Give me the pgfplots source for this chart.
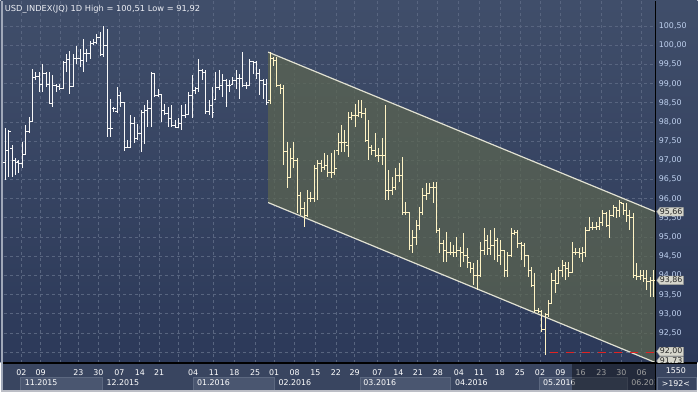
\documentclass[border=0pt]{standalone}
\usepackage{pgfplots}
\pgfplotsset{compat=1.18}
\usepackage{pgfplotstable}
\usetikzlibrary{backgrounds}
\usepackage{fontspec}
\setmainfont{DejaVu Sans}
\definecolor{bgtop}{RGB}{64,78,106}
\definecolor{bgbot}{RGB}{44,57,89}
\definecolor{gridc}{RGB}{88,101,128}
\definecolor{stripc}{RGB}{57,69,96}
\definecolor{monthc}{RGB}{74,86,112}
\definecolor{monthb}{RGB}{92,104,128}
\definecolor{chanfill}{RGB}{92,101,80}
\definecolor{chanline}{RGB}{225,225,210}
\definecolor{barw}{RGB}{248,248,248}
\definecolor{barc}{RGB}{255,243,196}
\definecolor{ylab}{RGB}{190,208,238}
\definecolor{boxc}{RGB}{214,214,204}
\definecolor{redl}{RGB}{225,35,35}
\definecolor{edgec}{RGB}{160,168,185}
\definecolor{botedge}{RGB}{188,190,198}
\definecolor{titlec}{RGB}{236,238,244}
\pgfdeclareplotmark{otick}{\pgfpathmoveto{\pgfqpoint{-2pt}{0pt}}\pgfpathlineto{\pgfqpoint{0.4pt}{0pt}}\pgfusepathqstroke}
\pgfdeclareplotmark{ctick}{\pgfpathmoveto{\pgfqpoint{-0.4pt}{0pt}}\pgfpathlineto{\pgfqpoint{2pt}{0pt}}\pgfusepathqstroke}
\newcommand{\lbl}{\fontsize{7.9}{9}\selectfont}
\newcommand{\valbox}[2]{%
  \filldraw[fill=boxc, draw=boxc!75!black, line width=0.4pt] (657.3,#1) -- (660.5,#1+4.3) -- (684,#1+4.3) -- (684,#1-4.3) -- (660.5,#1-4.3) -- cycle;
  \node[anchor=west, inner sep=0pt, text=black!85, font=\lbl] at (660.3,#1) {#2};}
\pgfplotstableread{
i H L O C
0 97.83 96.48 96.95 97.26
1 97.78 96.56 97.26 97.75
2 97.39 96.56 97.31 97.00
3 97.05 96.61 97.00 96.95
4 97.00 96.66 96.97 96.92
5 97.49 96.79 96.92 97.16
6 97.91 97.13 97.16 97.75
7 98.14 97.73 97.75 98.01
8 99.37 98.01 98.01 99.16
9 99.31 99.08 99.16 99.18
10 99.29 98.79 99.18 98.98
11 99.50 98.77 98.98 99.26
12 99.29 98.92 99.26 98.98
13 99.29 98.46 98.98 98.48
14 99.21 98.40 98.48 98.95
15 99.00 98.77 98.95 98.92
16 98.98 98.82 98.92 98.87
17 99.60 98.87 98.87 99.55
18 99.76 99.29 99.55 99.63
19 99.86 98.72 99.63 98.92
20 99.76 98.92 98.92 99.65
21 99.99 99.52 99.65 99.66
22 99.91 99.44 99.66 99.60
23 100.17 99.29 99.60 99.78
24 99.91 99.55 99.78 99.78
25 100.12 99.65 99.78 100.04
26 100.17 100.02 100.04 100.07
27 100.30 100.02 100.07 100.20
28 100.33 99.73 100.20 99.76
29 100.51 99.70 99.76 99.99
30 100.43 97.60 99.99 97.83
31 98.61 97.60 97.83 97.83
32 98.38 98.25 98.35 98.35
33 98.90 98.25 98.27 98.69
34 98.77 98.38 98.69 98.51
35 98.53 97.23 98.51 97.34
36 97.52 97.31 97.34 97.34
37 98.17 97.31 97.34 97.96
38 98.12 97.44 97.96 97.57
39 97.94 97.52 97.57 97.70
40 98.30 97.21 97.70 98.25
41 98.43 97.42 98.25 98.30
42 98.56 97.86 98.30 98.35
43 99.29 97.88 98.35 99.26
44 99.26 98.64 99.26 98.69
45 98.85 98.64 98.69 98.72
46 98.64 97.99 98.72 98.30
47 98.48 98.17 98.30 98.22
48 98.38 97.86 98.22 98.09
49 98.43 97.86 98.09 97.91
50 98.04 97.83 97.91 97.86
51 98.09 97.83 97.86 97.96
52 98.43 97.78 97.96 98.17
53 98.46 98.09 98.17 98.20
54 98.77 98.17 98.20 98.69
55 99.21 98.09 98.69 98.82
56 98.92 98.74 98.82 98.87
57 99.65 98.77 98.87 99.34
58 99.39 99.08 99.34 99.29
59 99.34 98.20 99.29 98.27
60 98.56 98.17 98.27 98.43
61 98.90 98.09 98.43 98.25
62 99.29 98.56 98.59 98.90
63 99.34 98.82 98.90 98.95
64 99.26 98.64 98.95 99.08
65 99.13 98.38 99.08 98.95
66 99.08 98.77 98.95 98.95
67 99.18 98.98 98.98 99.08
68 99.34 98.87 99.08 99.13
69 99.26 98.61 99.13 99.13
70 99.81 98.92 99.13 98.95
71 99.03 98.87 98.95 98.95
72 99.63 98.95 98.95 99.57
73 99.60 99.26 99.57 99.55
74 99.60 99.13 99.55 99.26
75 99.39 98.69 99.26 99.08
76 99.13 98.61 99.08 98.98
77 99.13 98.43 98.98 98.51
78 99.81 98.48 98.56 99.65
79 99.70 99.47 99.65 99.60
80 99.68 98.90 99.60 98.95
81 98.98 98.74 98.95 98.87
82 98.95 96.87 98.87 97.23
83 97.47 96.27 97.23 96.56
84 97.31 96.56 96.56 97.05
85 97.47 96.79 97.05 97.00
86 97.05 95.62 97.00 96.09
87 96.17 95.57 96.09 95.75
88 95.91 95.26 95.75 95.57
89 96.22 95.52 95.57 96.01
90 96.17 95.91 96.01 96.01
91 96.87 95.91 96.01 96.79
92 97.00 95.96 96.79 96.92
93 97.00 96.69 96.92 96.82
94 97.18 96.74 96.82 96.87
95 97.13 96.56 96.87 96.69
96 97.18 96.53 96.69 96.69
97 97.26 96.61 96.69 96.79
98 97.70 97.13 97.26 97.47
99 97.91 97.21 97.47 97.47
100 97.78 97.21 97.47 97.47
101 98.25 97.08 97.39 98.12
102 98.25 98.04 98.12 98.17
103 98.48 97.86 98.17 98.17
104 98.56 98.12 98.17 98.25
105 98.56 98.09 98.25 98.22
106 98.35 97.47 98.22 97.52
107 98.04 97.00 97.52 97.34
108 97.39 97.13 97.34 97.26
109 97.70 97.08 97.26 97.13
110 97.31 96.95 97.13 97.13
111 97.57 96.87 97.13 97.13
112 98.43 95.96 97.13 96.22
113 96.74 95.96 96.22 96.22
114 96.56 96.09 96.22 96.30
115 96.79 96.22 96.30 96.61
116 96.92 96.43 96.61 96.61
117 97.08 95.57 96.61 95.65
118 95.91 95.57 95.65 95.65
119 95.65 94.66 95.65 94.79
120 95.18 94.58 94.79 95.00
121 95.44 94.79 95.00 95.31
122 95.78 95.18 95.31 95.65
123 96.27 95.57 95.65 96.09
124 96.40 95.96 96.09 96.14
125 96.40 96.14 96.14 96.30
126 96.43 95.88 96.30 96.30
127 96.43 95.10 96.30 95.18
128 95.23 94.58 95.18 94.84
129 94.92 94.35 94.84 94.66
130 95.13 94.35 94.66 94.61
131 94.87 94.53 94.61 94.61
132 94.79 94.48 94.61 94.61
133 95.00 94.48 94.61 94.66
134 94.74 94.22 94.66 94.61
135 95.10 94.35 94.61 94.53
136 94.71 94.19 94.53 94.48
137 94.35 94.06 94.35 94.19
138 94.32 93.75 94.19 94.01
139 94.40 93.62 94.01 94.01
140 94.87 93.96 94.01 94.66
141 95.23 94.53 94.66 94.92
142 95.05 94.53 94.92 94.71
143 95.18 94.53 94.71 94.79
144 95.23 94.40 94.79 94.92
145 94.97 94.35 94.92 94.53
146 94.92 94.27 94.53 94.66
147 94.66 93.96 94.66 94.14
148 94.61 93.96 94.14 94.53
149 95.23 94.48 94.53 95.10
150 95.18 95.05 95.10 95.13
151 95.18 94.71 95.13 94.84
152 94.87 94.40 94.84 94.79
153 94.84 94.22 94.79 94.53
154 94.53 93.96 94.53 94.14
155 94.22 93.70 94.14 93.75
156 94.06 93.05 93.75 93.10
157 93.15 93.02 93.10 93.07
158 93.10 92.53 93.07 92.58
159 93.02 91.92 92.58 92.97
160 93.36 92.92 92.97 93.28
161 94.06 93.28 93.28 93.88
162 94.14 93.54 93.88 93.80
163 94.22 93.80 93.80 94.14
164 94.40 93.96 94.14 94.27
165 94.35 93.88 94.27 94.19
166 94.35 93.96 94.19 94.09
167 94.87 94.09 94.09 94.61
168 94.71 94.53 94.61 94.61
169 94.71 94.45 94.61 94.58
170 94.74 94.35 94.58 94.61
171 95.26 94.48 94.61 95.18
172 95.52 95.18 95.18 95.26
173 95.39 95.18 95.26 95.26
174 95.39 95.18 95.26 95.28
175 95.52 95.18 95.28 95.39
176 95.70 95.28 95.39 95.62
177 95.65 95.26 95.62 95.31
178 95.70 94.97 95.31 95.57
179 95.83 95.52 95.57 95.78
180 95.78 95.49 95.78 95.70
181 95.96 95.52 95.70 95.91
182 95.88 95.57 95.88 95.70
183 95.88 95.39 95.70 95.57
184 95.70 95.18 95.57 95.52
185 95.62 93.93 95.52 94.01
186 94.32 93.88 94.01 93.96
187 94.14 93.88 93.96 94.01
188 94.14 93.83 94.01 93.93
189 94.14 93.62 93.93 93.83
190 93.96 93.44 93.83 93.88
191 94.14 93.44 93.88 93.86
}\ohlc
\begin{document}
\begin{tikzpicture}[x=1pt,y=1pt]
\begin{axis}[name=ax, scale only axis,
  width=653pt, height=363pt,
  xmin=-0.5, xmax=191.5, ymin=91.72, ymax=101.16,
  axis line style={draw=none}, major tick length=0pt,
  grid=major,
  major grid style={gridc, dash pattern=on 3pt off 3pt, line width=0.8pt},
  xtick={4.7,10.4,16.1,21.5,27.4,33.6,39.6,45.3,51.1,55.3,61.4,67.5,73.6,79.2,85.2,91.3,97.4,102.9,109.6,115.8,121.5,127.4,133.6,139.6,145.7,151.6,157.5,163.5,169.5,175.6,181.5,187.4},
  xticklabels={02,09,,23,30,07,14,21,,04,11,18,25,01,08,15,22,29,07,14,21,28,04,11,18,25,02,09,16,23,30,06},
  xticklabel style={font=\lbl, text=white, yshift=-3pt},
  ytick={92.5,93,93.5,94,94.5,95,95.5,96,96.5,97,97.5,98,98.5,99,99.5,100,100.5},
  extra y ticks={92}, extra y tick labels={},
  yticklabel pos=right,
  yticklabel style={font=\lbl, text=ylab},
  /pgf/number format/.cd, fixed, fixed zerofill, precision=2, use comma, assume math mode=true,
  /pgfplots/.cd, clip=true]
\coordinate (sw) at (rel axis cs:0,0);
\addplot[fill=chanfill, fill opacity=0.72, draw=none, forget plot] coordinates {(77.4,99.82) (191.5,95.66) (191.5,91.73) (77.4,95.90)} -- cycle;
\addplot[chanline, line width=1.2pt, forget plot] coordinates {(77.4,99.82) (191.5,95.66)};
\addplot[chanline, line width=1.2pt, forget plot] coordinates {(77.4,95.90) (191.5,91.73)};
\addplot[redl, line width=1pt, dash pattern=on 8pt off 8pt, forget plot] coordinates {(160.4,92) (191.5,92)};
\addplot[only marks, mark=otick, barw, mark options={line width=1pt, solid}, restrict x to domain=0:77,
  error bars/.cd, y dir=both, y explicit, error mark=none, error bar style={line width=1pt, barw, solid}]
  table[x=i, y=O, y error plus expr=\thisrow{H}-\thisrow{O}, y error minus expr=\thisrow{O}-\thisrow{L}] {\ohlc};
\addplot[only marks, mark=ctick, barw, mark options={line width=1pt, solid}, restrict x to domain=0:77]
  table[x=i, y=C] {\ohlc};
\addplot[only marks, mark=otick, barc, mark options={line width=1pt, solid}, restrict x to domain=78:191,
  error bars/.cd, y dir=both, y explicit, error mark=none, error bar style={line width=1pt, barc, solid}]
  table[x=i, y=O, y error plus expr=\thisrow{H}-\thisrow{O}, y error minus expr=\thisrow{O}-\thisrow{L}] {\ohlc};
\addplot[only marks, mark=ctick, barc, mark options={line width=1pt, solid}, restrict x to domain=78:191]
  table[x=i, y=C] {\ohlc};
\end{axis}
\begin{scope}[shift={(sw)}]
\begin{scope}[shift={(-3,-29)}]
\begin{pgfonlayer}{background}
\shade[top color=bgtop, bottom color=bgbot] (0,29) rectangle (698,392);
\fill[stripc] (0,0) rectangle (698,29);
\foreach \a/\b in {19.3/101.7,192.7/274,360/451,539.3/628}{
  \filldraw[fill=monthc, draw=monthb, line width=0.8pt] (\a,0.5) rectangle (\b,14.7);}
\begin{scope}[every node/.style={anchor=west, inner sep=0pt, text=white, font=\lbl}]
\node at (24,9.7) {11.2015};
\node at (106,9.7) {12.2015};
\node at (196.7,9.7) {01.2016};
\node at (278.3,9.7) {02.2016};
\node at (363.3,9.7) {03.2016};
\node at (455,9.7) {04.2016};
\node at (543.3,9.7) {05.2016};
\begin{scope}
\clip (600,0) rectangle (655,29);
\node at (631.7,9.7) {06.2016};
\end{scope}
\end{scope}
\end{pgfonlayer}
% darker selection overlay on the time strip
\fill[black, opacity=0.38] (572.7,0) rectangle (656,28.4);
% frame lines
\draw[black, line width=1.3pt] (0,29) -- (698,29);
\draw[black, line width=1.3pt] (656,0) -- (656,392);
% right bottom box
\draw[monthb, line width=0.8pt] (657.5,1) rectangle (697,14.5);
\node[font=\lbl, text=white, inner sep=0pt] at (676.5,21.3) {1550};
\node[font=\lbl, text=white, inner sep=0pt] at (676.5,8.3) {>192<};
% value markers
\valbox{180.5}{95,66}
\valbox{111.8}{93,86}
\valbox{40.5}{92,00}
\begin{scope}
\clip (656.5,29.8) rectangle (698,40);
\valbox{31}{91,73}
\end{scope}
% title
\node[anchor=west, inner sep=0pt, text=titlec, font=\fontsize{8.3}{10}\selectfont] at (4,383.5) {USD\_INDEX(JQ) 1D High = 100,51 Low = 91,92};
% outer edges
\fill[edgec] (0,0) rectangle (2,392);
\fill[botedge] (0,0) rectangle (698,1.5);
\end{scope}
\end{scope}
\end{tikzpicture}
\end{document}
